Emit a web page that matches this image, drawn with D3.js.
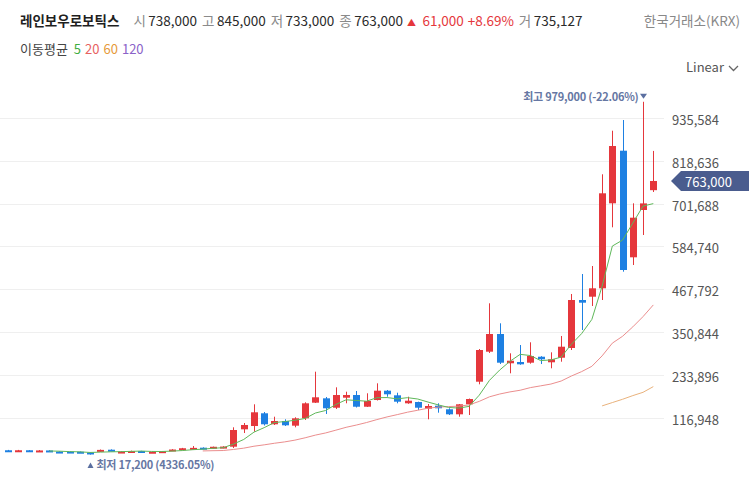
<!DOCTYPE html>
<html><head><meta charset="utf-8">
<script src="https://cdn.jsdelivr.net/npm/d3@7"></script>
<style>
body{margin:0;background:#fff;overflow:hidden}
svg{display:block;font-family:"Noto Sans CJK KR","Noto Sans",sans-serif}
</style></head><body><svg id="c" width="749" height="477"></svg>
<script>
// ---- data ----
const opens  = [29000,26000,29000,26000,28500,25500,25500,25000,23000,25500,30500,23000,24000,27000,22500,23500,27500,31500,32500,36000,34500,35000,
  38700,86100,95100,129800,99800,108800,96000,116100,158700,170600,145000,172300,179600,147700,166000,191400,178800,157000,160600,142300,150500,140700,127000,154300,
  215900,297700,345900,266100,269600,267700,284000,268800,281300,307800,438600,447600,470500,702200,845600,555000,684000,738000];
const highs  = [30000,30000,29500,29500,29000,26000,26000,25500,23500,31000,31500,26500,28000,27500,25500,27000,32000,35500,40500,37000,39000,40000,
  91600,103300,154300,133300,120500,113400,118900,159700,243200,174200,200600,188600,190500,184300,211500,193300,185900,175000,161500,155100,157000,143400,155000,170000,
  305000,429600,375100,293300,315900,323300,285500,296000,340500,455000,509500,531300,781300,900100,929300,702200,979000,845000];
const lows   = [25500,25000,25000,25500,25000,22500,22500,22000,17200,25000,27000,22500,23500,23500,22000,23000,27000,31000,32000,32000,34000,34500,
  35200,76000,79600,96500,97900,95100,91600,111500,157800,127900,141500,157000,145600,146900,164700,175000,157000,155700,138800,113400,131400,125100,120500,125100,
  208800,294100,264100,238800,262000,265000,264100,252400,270400,302300,356800,422300,438600,636800,515800,534000,615800,733000];
const closes = [26000,29000,26000,28500,25500,23500,23000,23000,20000,30000,27500,25500,27000,24000,25000,26500,31000,34500,35500,32500,38500,39000,
  84200,97900,132500,99800,108800,97000,116100,157000,173400,143400,179600,179600,147700,163300,191400,181600,161400,164100,145000,149700,143400,127000,154300,168700,
  302300,345900,267700,273100,263300,286000,277000,277000,311300,438600,431300,470500,729500,858400,520400,663000,702000,763000];
const ma5 = [null,null,null,null,27000,26500,25300,24700,23000,23900,24700,25200,26000,26800,25800,25600,26700,28200,30500,32000,34400,36000,
  45900,58400,78400,90700,104600,107200,110800,115700,130500,137400,153900,166600,164700,162700,172300,172700,169100,172400,168700,160400,152700,145800,143900,148600,
  179100,219600,247800,271500,290500,287200,273400,275300,282900,318000,347000,385700,476200,585700,602000,648400,694700,701400];
const ma20 = [null,null,null,null,null,null,null,null,null,null,null,null,null,null,null,null,null,null,null,27200,27800,28300,
  31200,34700,40000,43800,48100,51800,56600,63000,70300,76200,83800,91600,97700,104600,112600,119900,126200,132800,138100,143700,146600,148100,149200,152600,
  162300,174700,182300,188100,192600,199800,204600,209500,217700,231400,243400,257900,286300,321000,339800,365400,393400,425200];
const ma60 = [null,null,null,null,null,null,null,null,null,null,null,null,null,null,null,null,null,null,null,null,null,null,
  null,null,null,null,null,null,null,null,null,null,null,null,null,null,null,null,null,null,null,null,null,null,null,null,
  null,null,null,null,null,null,null,null,null,null,null,null,150000,159000,168000,178000,187000,202500];
const yTicks = [116948,233896,350844,467792,584740,701688,818636,935584];
const stockName = "레인보우로보틱스";
const headerItems = [["시","738,000"],["고","845,000"],["저","733,000"],["종","763,000"]];
const changeAbs = "61,000", changePct = "+8.69%";
const volumeItem = ["거","735,127"];
const exchange = "한국거래소(KRX)";
const maLegend = [["5","#3fae3f"],["20","#e7615f"],["60","#e69a3a"],["120","#8a62c8"]];
const lastPrice = 763000;
const highInfo = {label:"최고 979,000 (-22.06%)"};
const lowInfo = {label:"최저 17,200 (4336.05%)"};

// ---- drawing ----
const svg = d3.select("#c");
const RED = "#e5373c", BLUE = "#1e80e2";
const x = d3.scaleLinear().domain([0, closes.length - 1]).range([8.2, 653.3]);
const y = d3.scaleLinear().domain([0, 935584]).range([460.9, 117.7]);

// gridlines
svg.append("g").selectAll("line").data(yTicks).join("line")
  .attr("x1", 0).attr("x2", 664)
  .attr("y1", d => Math.round(y(d)) + 0.5).attr("y2", d => Math.round(y(d)) + 0.5)
  .attr("stroke", "#efefef").attr("stroke-width", 1);

// y labels
svg.append("g").selectAll("text").data(yTicks).join("text")
  .attr("x", 672).attr("y", d => y(d) + 1.5)
  .attr("dominant-baseline", "central")
  .attr("font-size", 13).attr("fill", "#555")
  .text(d => d3.format(",")(d));

// candles
const idx = d3.range(closes.length);
const cg = svg.append("g");
cg.selectAll("line").data(idx).join("line")
  .attr("x1", i => Math.round(x(i)) + 0.5).attr("x2", i => Math.round(x(i)) + 0.5)
  .attr("y1", i => y(highs[i])).attr("y2", i => y(lows[i]))
  .attr("stroke", i => closes[i] >= opens[i] ? RED : BLUE).attr("stroke-width", 1);
cg.selectAll("rect").data(idx).join("rect")
  .attr("x", i => Math.round(x(i)) - 3)
  .attr("width", 7)
  .attr("y", i => Math.min(y(opens[i]), y(closes[i])))
  .attr("height", i => Math.max(2, Math.abs(y(opens[i]) - y(closes[i]))))
  .attr("fill", i => closes[i] >= opens[i] ? RED : BLUE);

// moving averages
const line = d3.line().defined(d => d[1] != null).x(d => x(d[0])).y(d => y(d[1]));
[[ma60, "#e9b27c"], [ma20, "#eb8e8e"], [ma5, "#5fb85a"]].forEach(([arr, col]) => {
  svg.append("path").datum(arr.map((v, i) => [i, v]))
    .attr("d", line).attr("fill", "none").attr("stroke", col).attr("stroke-width", 1);
});

// header
const hdr = svg.append("g").attr("font-size", 13.5);
let cx = 20;
function put(txt, col, gapAfter, weight) {
  const t = hdr.append("text").attr("x", cx).attr("y", 26).attr("fill", col).text(txt);
  if (weight) t.attr("font-weight", weight);
  cx += t.node().getComputedTextLength() + gapAfter;
  return t;
}
put(stockName, "#1f1f1f", 14, "bold");
headerItems.forEach(([l, v]) => { put(l, "#8a8a8a", 2.5); put(v, "#2a2a2a", 5); });
cx -= 1;
put("▲", RED, 2).attr("font-size", 9);
put(changeAbs, RED, 4);
put(changePct, RED, 5);
put(volumeItem[0], "#8a8a8a", 2.5); put(volumeItem[1], "#2a2a2a", 0);
hdr.append("text").attr("x", 740).attr("y", 26).attr("text-anchor", "end").attr("fill", "#888").text(exchange);

// MA legend
const lg = svg.append("g").attr("font-size", 13);
let lx = 20;
const lt = lg.append("text").attr("x", lx).attr("y", 54).attr("fill", "#444").text("이동평균");
lx += lt.node().getComputedTextLength() + 6;
maLegend.forEach(([t, c]) => {
  const e = lg.append("text").attr("x", lx).attr("y", 54).attr("fill", c).text(t);
  lx += e.node().getComputedTextLength() + 4;
});

// Linear dropdown
svg.append("text").attr("x", 686).attr("y", 72).attr("font-size", 13).attr("fill", "#555").text("Linear");
svg.append("path").attr("d", "M729,66 L733.5,70.5 L738,66").attr("fill", "none").attr("stroke", "#666").attr("stroke-width", 1.3);

// high annotation
const hi = d3.maxIndex(highs);
const hx = Math.round(x(hi)) + 0.5;
svg.append("path").attr("d", `M${hx-3.5},${y(highs[hi])-8} L${hx+3.5},${y(highs[hi])-8} L${hx},${y(highs[hi])-3} Z`).attr("fill", "#5b6fa0");
svg.append("text").attr("x", hx - 5).attr("y", y(highs[hi]) - 1)
  .attr("text-anchor", "end").attr("font-size", 11).attr("letter-spacing", -0.25)
  .attr("font-weight", "bold").attr("fill", "#6677a3").text(highInfo.label);

// low annotation
const lo = d3.minIndex(lows);
const lox = Math.round(x(lo)) + 0.5;
svg.append("path").attr("d", `M${lox-3},${468} L${lox+3},${468} L${lox},${462.5} Z`).attr("fill", "#5b6fa0");
svg.append("text").attr("x", lox + 6).attr("y", 468.5)
  .attr("font-size", 11).attr("letter-spacing", -0.25)
  .attr("font-weight", "bold").attr("fill", "#6677a3").text(lowInfo.label);

// current price tag
const py = y(lastPrice);
svg.append("path").attr("d", `M671,${py} L681,${py-10} L749,${py-10} L749,${py+10} L681,${py+10} Z`).attr("fill", "#4a5c8e");
svg.append("text").attr("x", 685).attr("y", py + 0.5).attr("dominant-baseline", "central")
  .attr("font-size", 13).attr("fill", "#fff").text(d3.format(",")(lastPrice));
</script></body></html>
